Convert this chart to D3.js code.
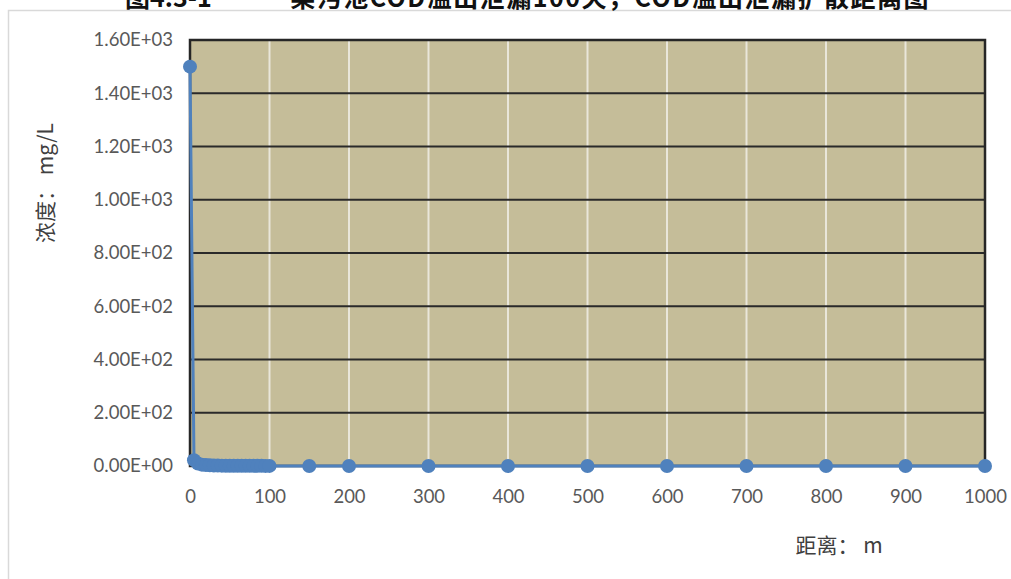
<!DOCTYPE html>
<html>
<head>
<meta charset="utf-8">
<script src="https://cdn.jsdelivr.net/npm/d3@7"></script>
<style>
  html, body { margin: 0; padding: 0; background: #fff; }
  svg { display: block; }
</style>
</head>
<body>
<svg id="chart" width="1011" height="579"></svg>
<script>
// Distance from the source (m) and COD concentration (mg/L)
const distances = [0, 5, 10, 15, 20, 25, 30, 35, 40, 45, 50, 55, 60, 65, 70, 75, 80, 85, 90, 95, 100, 150, 200, 300, 400, 500, 600, 700, 800, 900, 1000];
const concentrations = [1500, 22, 9, 5, 3.5, 2.6, 2.1, 1.7, 1.4, 1.2, 1.05, 0.92, 0.82, 0.74, 0.67, 0.61, 0.56, 0.52, 0.48, 0.45, 0.42, 0.25, 0.17, 0.1, 0.07, 0.05, 0.04, 0.03, 0.025, 0.02, 0.018];
const xTicks = [0, 100, 200, 300, 400, 500, 600, 700, 800, 900, 1000];
const yTicks = [0, 200, 400, 600, 800, 1000, 1200, 1400, 1600];
const figureNo = "图4.3-1";
const chartTitle = "某污池COD溢出泄漏100天，COD溢出泄漏扩散距离图";
const xTitle = "距离： m";
const yTitle = "浓度： mg/L";

const svg = d3.select("#chart");
const W = 1011, H = 579;
const plot = { left: 190, right: 985, top: 40, bottom: 466 };

const x = d3.scaleLinear().domain([0, 1000]).range([plot.left, plot.right]);
const y = d3.scaleLinear().domain([0, 1600]).range([plot.bottom, plot.top]);

const latin = "Lato, 'Open Sans', sans-serif";
const cjk = "'Noto Sans CJK SC', sans-serif";

// Outer chart frame
svg.append("rect")
  .attr("x", 8.5).attr("y", 10.5)
  .attr("width", W + 10).attr("height", H + 10)
  .attr("fill", "#fff").attr("stroke", "#d9d9d9").attr("stroke-width", 1.5);

// Figure caption above the frame
svg.append("text")
  .attr("x", 125).attr("y", 7)
  .attr("font-family", cjk).attr("font-weight", "bold")
  .attr("font-size", 25).attr("fill", "#111")
  .text(figureNo);
svg.append("text")
  .attr("x", 930).attr("y", 7)
  .attr("text-anchor", "end")
  .attr("font-family", cjk).attr("font-weight", "bold")
  .attr("font-size", 25).attr("letter-spacing", 1.5).attr("fill", "#111")
  .text(chartTitle);

// Plot background
svg.append("rect")
  .attr("x", plot.left).attr("y", plot.top)
  .attr("width", plot.right - plot.left).attr("height", plot.bottom - plot.top)
  .attr("fill", "#c5bd99");

// Vertical gridlines
svg.append("g")
  .selectAll("line")
  .data(xTicks.slice(1, -1))
  .join("line")
  .attr("x1", d => x(d)).attr("x2", d => x(d))
  .attr("y1", plot.top).attr("y2", plot.bottom)
  .attr("stroke", "#e9e6da").attr("stroke-width", 2);

// Horizontal gridlines
svg.append("g")
  .selectAll("line")
  .data(yTicks.slice(1, -1))
  .join("line")
  .attr("x1", plot.left).attr("x2", plot.right)
  .attr("y1", d => y(d)).attr("y2", d => y(d))
  .attr("stroke", "#2a2a2a").attr("stroke-width", 2);

// Plot border
svg.append("rect")
  .attr("x", plot.left).attr("y", plot.top)
  .attr("width", plot.right - plot.left).attr("height", plot.bottom - plot.top)
  .attr("fill", "none").attr("stroke", "#262626").attr("stroke-width", 2.5);

// Y axis labels in scientific notation (1.60E+03)
const yAxis = d3.axisLeft(y)
  .tickValues(yTicks)
  .tickSize(0)
  .tickPadding(17)
  .tickFormat(d => d3.format(".2e")(d).replace("e", "E").replace(/E([+-])(\d)$/, "E$10$2"));
const gy = svg.append("g").attr("transform", `translate(${plot.left},0)`).call(yAxis);
gy.select(".domain").remove();
gy.selectAll("text")
  .attr("font-family", latin).attr("font-size", 18.5).attr("fill", "#595959");

// X axis labels
const xAxis = d3.axisBottom(x).tickValues(xTicks).tickSize(0).tickPadding(24).tickFormat(d3.format("d"));
const gx = svg.append("g").attr("transform", `translate(0,${plot.bottom})`).call(xAxis);
gx.select(".domain").remove();
gx.selectAll("text")
  .attr("font-family", latin).attr("font-size", 18.5).attr("fill", "#595959");

// Series line and markers
const pts = distances.map((d, i) => [d, concentrations[i]]);
svg.append("path")
  .datum(pts)
  .attr("fill", "none")
  .attr("stroke", "#4f81bd")
  .attr("stroke-width", 3)
  .attr("d", d3.line().x(d => x(d[0])).y(d => y(d[1])));

svg.append("g")
  .selectAll("circle")
  .data(pts)
  .join("circle")
  .attr("cx", d => x(d[0])).attr("cy", d => y(d[1]))
  .attr("r", 7)
  .attr("fill", "#4f81bd");

// Axis titles
svg.append("text")
  .attr("x", 839).attr("y", 553)
  .attr("text-anchor", "middle")
  .attr("font-family", cjk).attr("font-size", 21).attr("fill", "#404040")
  .text(xTitle);

svg.append("text")
  .attr("transform", "translate(53,183) rotate(-90)")
  .attr("text-anchor", "middle")
  .attr("font-family", cjk).attr("font-size", 21).attr("fill", "#404040")
  .text(yTitle);
</script>
</body>
</html>
